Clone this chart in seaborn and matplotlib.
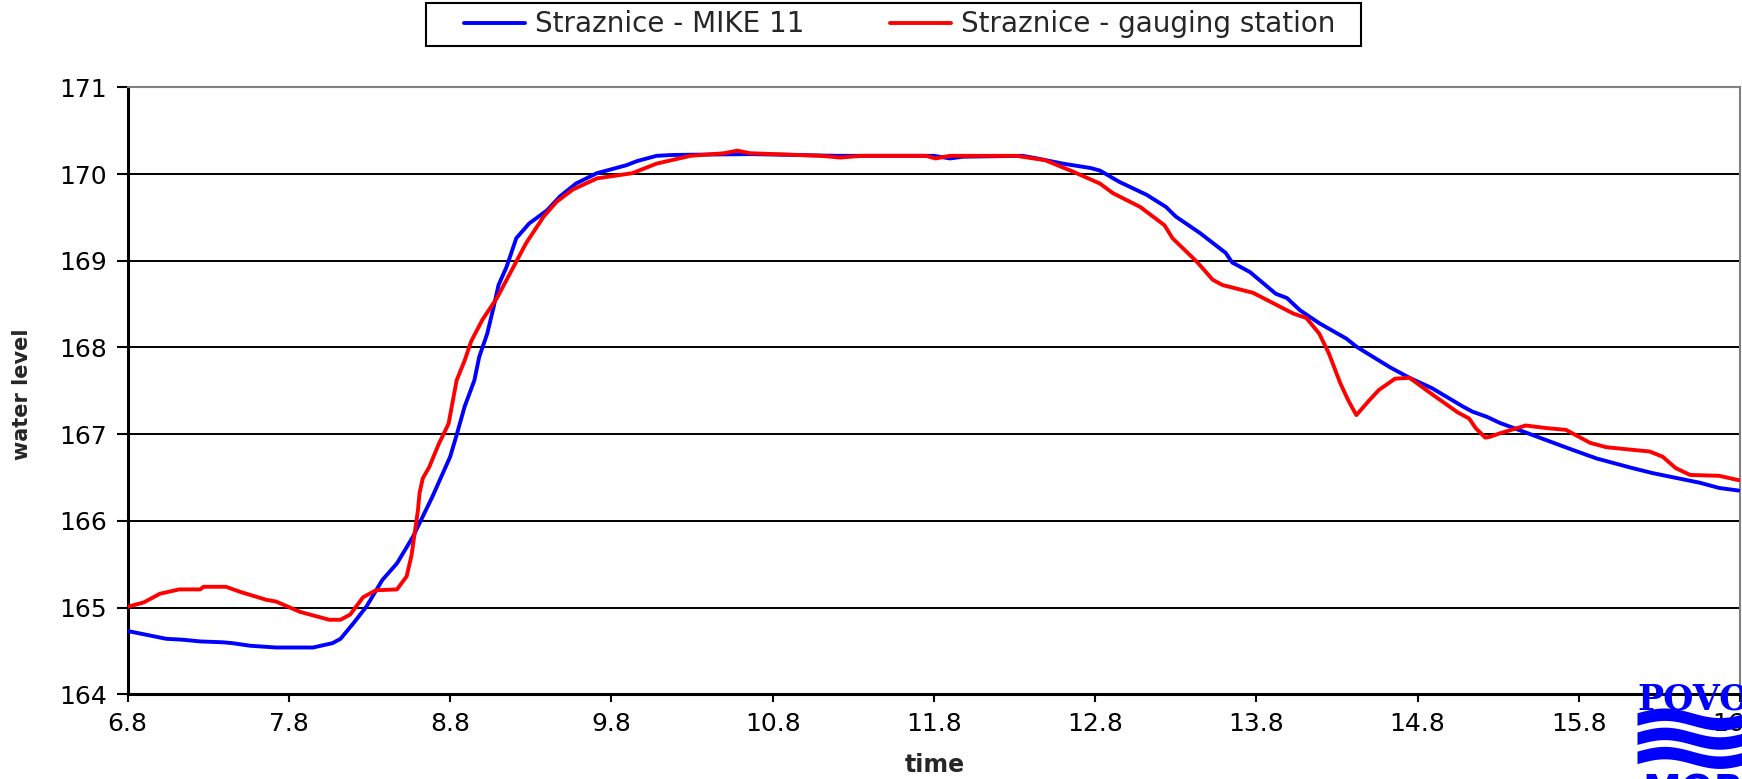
import numpy as np
import pandas as pd
import seaborn as sns
import matplotlib.pyplot as plt
from matplotlib.patches import Rectangle

# MIKE 11 model results (time in days of month, water level m a.s.l.)
mike_time = [6.80, 6.88, 6.96, 7.04, 7.14, 7.25, 7.39, 7.45, 7.56, 7.72, 7.95, 8.07, 8.12,
             8.20, 8.28, 8.38, 8.47, 8.57, 8.69, 8.80, 8.84, 8.89, 8.95, 8.98, 9.03, 9.07,
             9.10, 9.15, 9.21, 9.29, 9.40, 9.48, 9.58, 9.71, 9.89, 9.96, 10.08, 10.18, 10.66,
             11.20, 11.80, 11.90, 11.98, 12.35, 12.44, 12.60, 12.77, 12.83, 12.95, 13.12,
             13.24, 13.30, 13.45, 13.61, 13.65, 13.76, 13.92, 13.99, 14.07, 14.19, 14.36,
             14.42, 14.63, 14.75, 14.89, 15.08, 15.14, 15.23, 15.31, 15.47, 15.60, 15.76,
             15.91, 16.13, 16.26, 16.55, 16.67, 16.79]
mike_level = [164.73, 164.70, 164.67, 164.64, 164.63, 164.61, 164.60, 164.59, 164.56, 164.54,
              164.54, 164.59, 164.64, 164.82, 165.01, 165.32, 165.51, 165.82, 166.28, 166.74,
              166.99, 167.32, 167.62, 167.89, 168.16, 168.47, 168.72, 168.93, 169.26, 169.43,
              169.58, 169.74, 169.89, 170.01, 170.10, 170.15, 170.21, 170.22, 170.23, 170.21,
              170.21, 170.18, 170.20, 170.21, 170.18, 170.12, 170.07, 170.04, 169.91, 169.76,
              169.62, 169.51, 169.32, 169.09, 168.98, 168.87, 168.62, 168.57, 168.43, 168.28,
              168.10, 168.01, 167.77, 167.65, 167.53, 167.32, 167.26, 167.20, 167.13, 167.02,
              166.93, 166.82, 166.72, 166.61, 166.55, 166.44, 166.38, 166.35]

# gauging station record
gauge_time = [6.80, 6.90, 7.00, 7.12, 7.25, 7.27, 7.41, 7.50, 7.66, 7.72, 7.87, 8.05, 8.12,
              8.18, 8.26, 8.34, 8.47, 8.53, 8.56, 8.60, 8.61, 8.63, 8.67, 8.73, 8.79, 8.84,
              8.89, 8.93, 9.00, 9.09, 9.17, 9.27, 9.38, 9.46, 9.56, 9.71, 9.93, 10.08, 10.29,
              10.50, 10.58, 10.66, 11.10, 11.22, 11.35, 11.75, 11.81, 11.90, 12.31, 12.49,
              12.66, 12.83, 12.91, 13.08, 13.23, 13.28, 13.43, 13.53, 13.59, 13.78, 14.03,
              14.11, 14.19, 14.25, 14.32, 14.37, 14.42, 14.50, 14.56, 14.66, 14.75, 14.89,
              15.05, 15.12, 15.16, 15.22, 15.25, 15.31, 15.47, 15.60, 15.72, 15.78, 15.87,
              15.97, 16.13, 16.24, 16.32, 16.40, 16.49, 16.67, 16.79]
gauge_level = [165.01, 165.06, 165.16, 165.21, 165.21, 165.24, 165.24, 165.18, 165.09, 165.07,
               164.95, 164.86, 164.86, 164.92, 165.12, 165.20, 165.21, 165.36, 165.60, 166.12,
               166.32, 166.49, 166.62, 166.89, 167.12, 167.62, 167.85, 168.07, 168.32, 168.57,
               168.85, 169.20, 169.51, 169.68, 169.82, 169.95, 170.01, 170.12, 170.21, 170.24,
               170.27, 170.24, 170.21, 170.19, 170.21, 170.21, 170.18, 170.21, 170.21, 170.16,
               170.03, 169.89, 169.78, 169.62, 169.41, 169.26, 168.99, 168.78, 168.72, 168.63,
               168.39, 168.34, 168.16, 167.93, 167.59, 167.39, 167.22, 167.39, 167.51, 167.64,
               167.65, 167.46, 167.25, 167.18, 167.07, 166.96, 166.97, 167.01, 167.10, 167.07,
               167.05, 166.99, 166.90, 166.85, 166.82, 166.80, 166.74, 166.61, 166.53, 166.52,
               166.47]

x_ticks = [6.8, 7.8, 8.8, 9.8, 10.8, 11.8, 12.8, 13.8, 14.8, 15.8, 16.8]
y_ticks = [164, 165, 166, 167, 168, 169, 170, 171]

sns.set_theme(style="white")
plt.rcParams['font.family'] = ['DejaVu Sans']

mike = pd.DataFrame({'time': mike_time, 'level': mike_level})
gauge = pd.DataFrame({'time': gauge_time, 'level': gauge_level})

W, H = 1742, 779
fig = plt.figure(figsize=(W / 100, H / 100), dpi=100)
ax = fig.add_axes([0.0733, 0.1087, 0.9256, 0.7792])

# horizontal grid lines (top one is the grey frame)
for yv in y_ticks[1:-1]:
    ax.axhline(yv, color='black', lw=1.4, zorder=1)

sns.lineplot(data=mike, x='time', y='level', sort=False, color='#0000FF', lw=2.8,
             ax=ax, label='Straznice - MIKE 11', zorder=3)
sns.lineplot(data=gauge, x='time', y='level', sort=False, color='#FF0000', lw=2.8,
             ax=ax, label='Straznice - gauging station', zorder=4)

ax.set_xlim(6.8, 16.8)
ax.set_ylim(164, 171)
ax.set_xticks(x_ticks)
ax.set_xticklabels(['%.1f' % v for v in x_ticks])
ax.set_yticks(y_ticks)
ax.set_xlabel('')
ax.set_ylabel('')
ax.tick_params(axis='y', direction='out', length=8, width=1.5, pad=7,
               labelsize=18, left=True, colors='black')
ax.tick_params(axis='x', direction='out', length=6, width=1.5, pad=7,
               labelsize=18, bottom=True, colors='black')
for s in ['left', 'bottom']:
    ax.spines[s].set_color('black')
    ax.spines[s].set_linewidth(2.2)
for s in ['top', 'right']:
    ax.spines[s].set_color('#808080')
    ax.spines[s].set_linewidth(1.5)

fig.text(0.5367, 0.002, 'time', ha='center', va='bottom', fontsize=17, weight='bold')
fig.text(0.0126, 0.494, 'water level', ha='center', va='center', rotation=90,
         fontsize=15, weight='bold')

# legend: entries without frame, plus a plain box drawn around them
h, l = ax.get_legend_handles_labels()
ax.get_legend().remove()
fig.legend(h, l, loc='center', bbox_to_anchor=(0.5165, 0.9686), ncol=2,
           fontsize=20, frameon=False, handlelength=2.2, handletextpad=0.35,
           columnspacing=3.1, borderpad=0.3, borderaxespad=0)
fig.patches.append(Rectangle((426 / W, 1 - 45.5 / H), (1361 - 426) / W, 42 / H,
                             transform=fig.transFigure, fill=True, facecolor='white',
                             edgecolor='black', lw=1.5, zorder=0))

# partial logo in the lower right corner
lax = fig.add_axes([1637 / W, 0, 105 / W, 96 / H])
lax.set_xlim(0, 1)
lax.set_ylim(0, 1)
lax.axis('off')
lax.patch.set_alpha(0)
xs = np.linspace(0, 1.2, 60)
for base in [0.56, 0.36, 0.16]:
    wave = base + 0.05 * np.sin(xs * 6)
    lax.fill_between(xs, wave, wave + 0.13, color='#0000FF', lw=0)
lax.text(0.0, 1.0, 'POVODÍ', color='#0000FF', fontsize=25, weight='bold',
         family='DejaVu Serif', va='top', ha='left', clip_on=False)
lax.text(0.05, -0.34, 'MORAVY', color='#0000FF', fontsize=28, weight='bold',
         family='DejaVu Sans', va='bottom', ha='left', clip_on=False)

fig.savefig('out.png', dpi=100)
